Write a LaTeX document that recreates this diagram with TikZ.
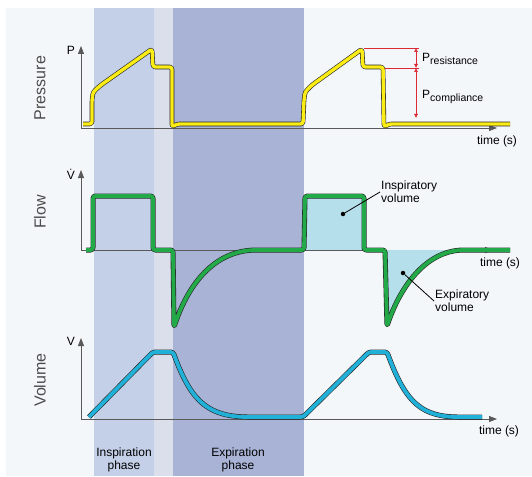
\documentclass[tikz,border=0pt]{standalone}
\usepackage{fontspec}
\setmainfont{Liberation Sans}
\usetikzlibrary{arrows.meta, positioning}
\definecolor{fond}{RGB}{244,247,249}
\definecolor{insp}{RGB}{196,208,232}
\definecolor{pause}{RGB}{219,222,235}
\definecolor{expi}{RGB}{168,179,214}
\definecolor{jaune}{RGB}{250,236,20}
\definecolor{vert}{RGB}{34,170,72}
\definecolor{cyan2}{RGB}{32,176,216}
\definecolor{volfill}{RGB}{180,223,235}
\definecolor{rouge}{RGB}{222,40,50}
\newcommand{\indice}[1]{\raisebox{-0.4ex}{\fontsize{10.5}{12}\selectfont #1}}

\begin{document}
\begin{tikzpicture}[x=1pt, y=-1pt]

 \tikzstyle{lbl}=[font=\fontsize{12}{13}\selectfont, inner sep=1pt]
 \tikzstyle{titre}=[font=\fontsize{16}{18}\selectfont, rotate=90, text=black!70]
 \tikzstyle{axe}=[-{Triangle[length=8pt,width=6pt]}, black!65, line width=0.8pt]
 \tikzstyle{courbe}=[draw=black!85, line width=0.6pt, double distance=3.4pt, rounded corners=2.5pt, line join=round]
 \tikzstyle{cote}=[rouge, line width=0.5pt]
 \tikzstyle{fleche}=[cote, {Latex[length=4pt,width=4pt]}-{Latex[length=4pt,width=4pt]}]
 \tikzstyle{point}=[circle, fill=black, inner sep=0pt, minimum size=4.5pt]

 \useasboundingbox (0,0) rectangle (532,476);

 % fond et phases
 \fill[fond] (6,8) rectangle (532,476);
 \fill[insp] (94,8) rectangle (154,476);
 \fill[pause] (154,8) rectangle (173,476);
 \fill[expi] (173,8) rectangle (304,476);

 % titres des courbes
 \node[titre] (tp) at (40,88) {Pressure};
 \node[titre] (tf) at (40,212) {Flow};
 \node[titre] (tv) at (40,380) {Volume};

 % axes
 \coordinate (p0) at (81,128);
 \coordinate (pY) at (81,46);
 \coordinate (pX) at (497,128);
 \coordinate (f0) at (81,250);
 \coordinate (fY) at (81,170);
 \coordinate (fX) at (493,250);
 \coordinate (v0) at (81,419);
 \coordinate (vY) at (81,338);
 \coordinate (vX) at (497,419);
 \draw[axe] (p0) -- (pY);
 \draw[axe] (p0) -- (pX);
 \draw[axe] (f0) -- (fY);
 \draw[axe] (f0) -- (fX);
 \draw[axe] (v0) -- (vY);
 \draw[axe] (v0) -- (vX);
 \node[lbl] (lp) at (71,50) {P};
 \node[lbl] (lf) at (71,174) {\.{V}};
 \node[lbl] (lv) at (71,341) {V};
 \node[lbl] (tx1) at (497,141) {time (s)};
 \node[lbl] (tx2) at (500,263) {time (s)};
 \node[lbl] (tx3) at (499,431) {time (s)};

 % pression
 \draw[courbe, double=jaune] (83,124) -- (92,124) -- (92,100) .. controls (93,92) .. (101,85) -- (152,49)
   -- (153,67) -- (172,67) -- (172,127) -- (177,124) -- (303,124) -- (304,100) .. controls (305,92) .. (312,85)
   -- (362,49) -- (363,67) -- (383,67) -- (384,127) -- (389,124) -- (510,124);
 \coordinate (r1) at (364,48);
 \coordinate (r2) at (419,48);
 \coordinate (r3) at (385,68);
 \coordinate (r4) at (419,68);
 \coordinate (a1) at (416,48);
 \coordinate (a2) at (416,68);
 \coordinate (a3) at (416,118);
 \draw[cote] (r1) -- (r2);
 \draw[cote] (r3) -- (r4);
 \draw[fleche] (a1) -- (a2);
 \draw[fleche] (a2) -- (a3);
 \node[lbl, anchor=west] (pres) at (421,59) {P\indice{resistance}};
 \node[lbl, anchor=west] (pcomp) at (421,97) {P\indice{compliance}};

 % debit
 \fill[volfill] (305,197) rectangle (364,250);
 \fill[volfill] (386,250) -- (387,326) .. controls (402,282) and (428,252) .. (463,250) -- cycle;
 \draw[courbe, double=vert, double distance=3.8pt] (86,250) -- (93,250) -- (93,196) -- (153,196) -- (153,250) -- (173,250)
   -- (174,327) .. controls (189,282) and (215,252) .. (255,250) -- (304,250) -- (305,196) -- (364,196)
   -- (364,250) -- (385,250) -- (387,326) .. controls (402,282) and (428,252) .. (463,250) -- (510,250);
 \node[point] (d1) at (343,214) {};
 \node[point] (d2) at (403,273) {};
 \node[lbl, anchor=west, align=left] (iv) at (380,192) {Inspiratory\\volume};
 \node[lbl, anchor=west, align=left] (ev) at (434,301) {Expiratory\\volume};
 \draw[line width=0.8pt] (d1) -- (iv.west);
 \draw[line width=0.8pt] (d2) -- (ev.west);

 % volume
 \draw[courbe, double=cyan2, double distance=3.8pt] (89,417) -- (153,352) -- (173,352) .. controls (190,398) and (205,415) .. (245,417)
   -- (303,417) -- (369,352) -- (387,352) .. controls (404,398) and (418,415) .. (455,417) -- (482,417);

 % phases
 \node[lbl, align=center] (ip) at (124,460) {Inspiration\\phase};
 \node[lbl, align=center] (ep) at (238,460) {Expiration\\phase};

\end{tikzpicture}
\end{document}
